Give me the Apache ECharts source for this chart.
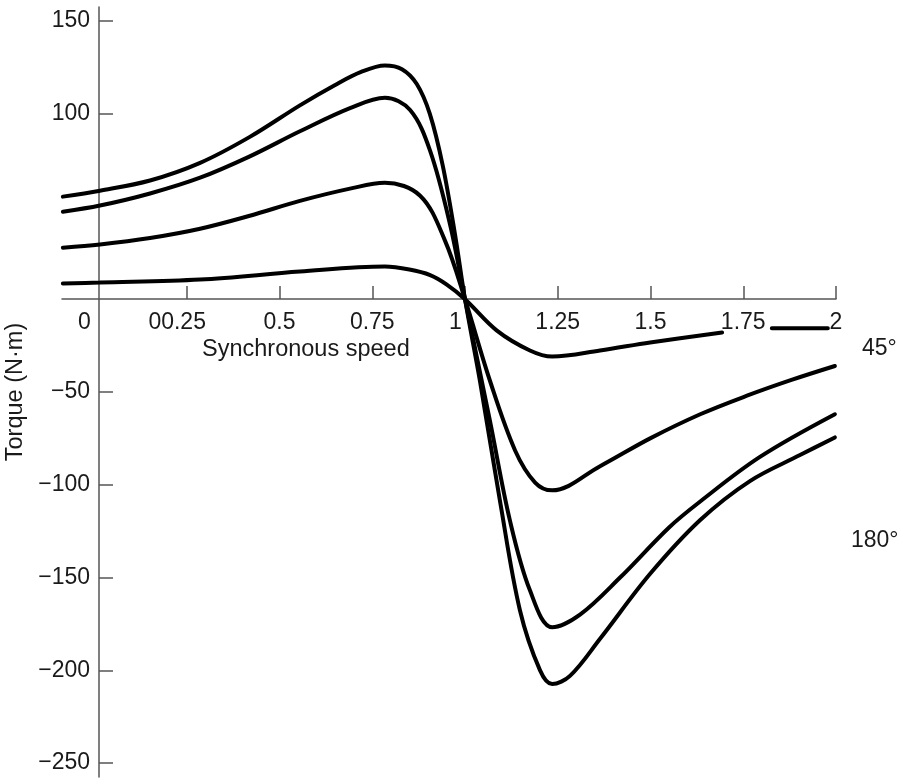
<!DOCTYPE html>
<html>
<head>
<meta charset="utf-8">
<script src="https://cdn.jsdelivr.net/npm/echarts@6/dist/echarts.min.js"></script>
<style>
  html, body { margin: 0; padding: 0; background: #fff; }
  #chart { width: 901px; height: 778px; }
</style>
</head>
<body>
<div id="chart"></div>
<script>
// speed (fraction of synchronous) vs torque, one curve per angle
const speed180 = [-0.084, 0.016, 0.151, 0.286, 0.42, 0.555, 0.65, 0.72, 0.784, 0.83, 0.87, 0.905, 0.94, 0.973, 1.0, 1.04, 1.094, 1.148, 1.202, 1.235, 1.283, 1.364, 1.499, 1.634, 1.768, 1.903, 1.997]
const torque180 = [55.3, 58.5, 64.0, 73.5, 87.5, 104.5, 115.5, 122.5, 126.0, 124.0, 116.0, 100.0, 72.0, 35.0, 0, -43.8, -108.4, -167.6, -199.9, -207.4, -203.0, -183.0, -148.0, -119.0, -98.0, -84.0, -74.5]

const speed135 = [-0.084, 0.016, 0.151, 0.286, 0.42, 0.555, 0.69, 0.784, 0.852, 0.906, 0.96, 1.0, 1.067, 1.121, 1.175, 1.235, 1.31, 1.418, 1.55, 1.634, 1.795, 1.997]
const torque135 = [47.2, 50.5, 57.0, 65.5, 77.0, 90.5, 103.0, 108.6, 102.0, 80.0, 40.0, 0, -65.3, -119.2, -156.9, -176.8, -170.0, -150.0, -123.0, -109.0, -85.0, -62.0]

const speed90 = [-0.084, 0.016, 0.151, 0.286, 0.42, 0.555, 0.69, 0.784, 0.879, 0.946, 1.0, 1.067, 1.135, 1.189, 1.235, 1.364, 1.499, 1.634, 1.76, 1.88, 1.997]
const torque90 = [27.8, 29.5, 33.0, 38.0, 45.0, 53.0, 59.6, 62.8, 55.8, 31.6, 0, -43.8, -81.5, -98.8, -103.0, -90.0, -75.0, -62.0, -52.0, -43.5, -36.0]

const speed45 = [-0.084, 0.016, 0.286, 0.555, 0.784, 0.85, 0.906, 0.95, 1.0, 1.086, 1.175, 1.235, 1.364, 1.499, 1.693, 1.75, 1.827, 1.978]
const torque45 = [8.5, 9.0, 10.6, 14.9, 17.6, 16.0, 13.0, 8.0, 0, -16.9, -27.6, -30.9, -27.6, -23.3, -17.9, null, -15.7, -15.7]

const xTicks = [0.25, 0.5, 0.75, 1, 1.25, 1.5, 1.75, 2]
const xLabels = [0, 0.25, 0.5, 0.75, 1, 1.25, 1.5, 1.75, 2]
const yTicks = [150, 100, -50, -100, -150, -200, -250]

const FONT = 'Liberation Sans, Arial, sans-serif'
const TXT = '#1a1a1a'

function pairs(xs, ys) {
  let out = []
  for (let i = 0; i < xs.length; i++) out.push([xs[i], ys[i] === null ? '-' : ys[i]])
  return out
}

function curve(xs, ys) {
  return {
    type: 'line',
    data: pairs(xs, ys),
    showSymbol: false,
    smooth: 0.35,
    connectNulls: false,
    lineStyle: { color: '#000', width: 4, cap: 'round' },
    silent: true
  }
}

const chart = echarts.init(document.getElementById('chart'))
chart.setOption({
  animation: false,
  grid: { left: 62, right: 65, top: 7, bottom: 1, outerBoundsMode: 'none' },
  xAxis: {
    type: 'value',
    position: 'bottom',
    min: -0.0863,
    max: 2,
    // axis drawn through torque = 0, moved up from the grid bottom
    offset: -478,
    splitLine: { show: false },
    axisLine: { onZero: false, lineStyle: { color: '#555', width: 1.5 } },
    axisTick: { show: true, inside: true, length: 13, customValues: xTicks, lineStyle: { color: '#555', width: 1.5 } },
    axisLabel: {
      show: true,
      customValues: xLabels,
      margin: 12,
      color: TXT,
      fontFamily: FONT,
      fontSize: 23,
      // the printed figure has "0" and "1" nudged left and a stray "0" before 0.25
      formatter: function (v) {
        if (v === 0) return '0   '
        if (v === 0.25) return '00.25   '
        if (v === 1) return '1   '
        return String(v)
      }
    }
  },
  yAxis: {
    type: 'value',
    min: -257.5,
    max: 157.5,
    offset: -37,
    splitLine: { show: false },
    name: 'Torque (N\u00b7m)',
    nameLocation: 'middle',
    nameRotate: 90,
    nameGap: 64,
    nameTextStyle: { color: TXT, fontFamily: FONT, fontSize: 23.5 },
    axisLine: { onZero: false, lineStyle: { color: '#555', width: 1.5 } },
    axisTick: { show: true, inside: true, length: 14, customValues: yTicks, lineStyle: { color: '#555', width: 1.5 } },
    axisLabel: {
      customValues: yTicks,
      margin: 9,
      color: TXT,
      fontFamily: FONT,
      fontSize: 23,
      formatter: function (v) { return String(v).replace('-', '\u2212') }
    }
  },
  graphic: [
    { type: 'text', left: 202, top: 338, style: { text: 'Synchronous speed', fill: TXT, font: '23.5px ' + FONT } },
    { type: 'text', left: 862, top: 337, style: { text: '45°', fill: TXT, font: '23px ' + FONT } },
    { type: 'text', left: 851, top: 529, style: { text: '180°', fill: TXT, font: '23px ' + FONT } }
  ],
  series: [
    curve(speed180, torque180),
    curve(speed135, torque135),
    curve(speed90, torque90),
    curve(speed45, torque45)
  ]
})
</script>
</body>
</html>
